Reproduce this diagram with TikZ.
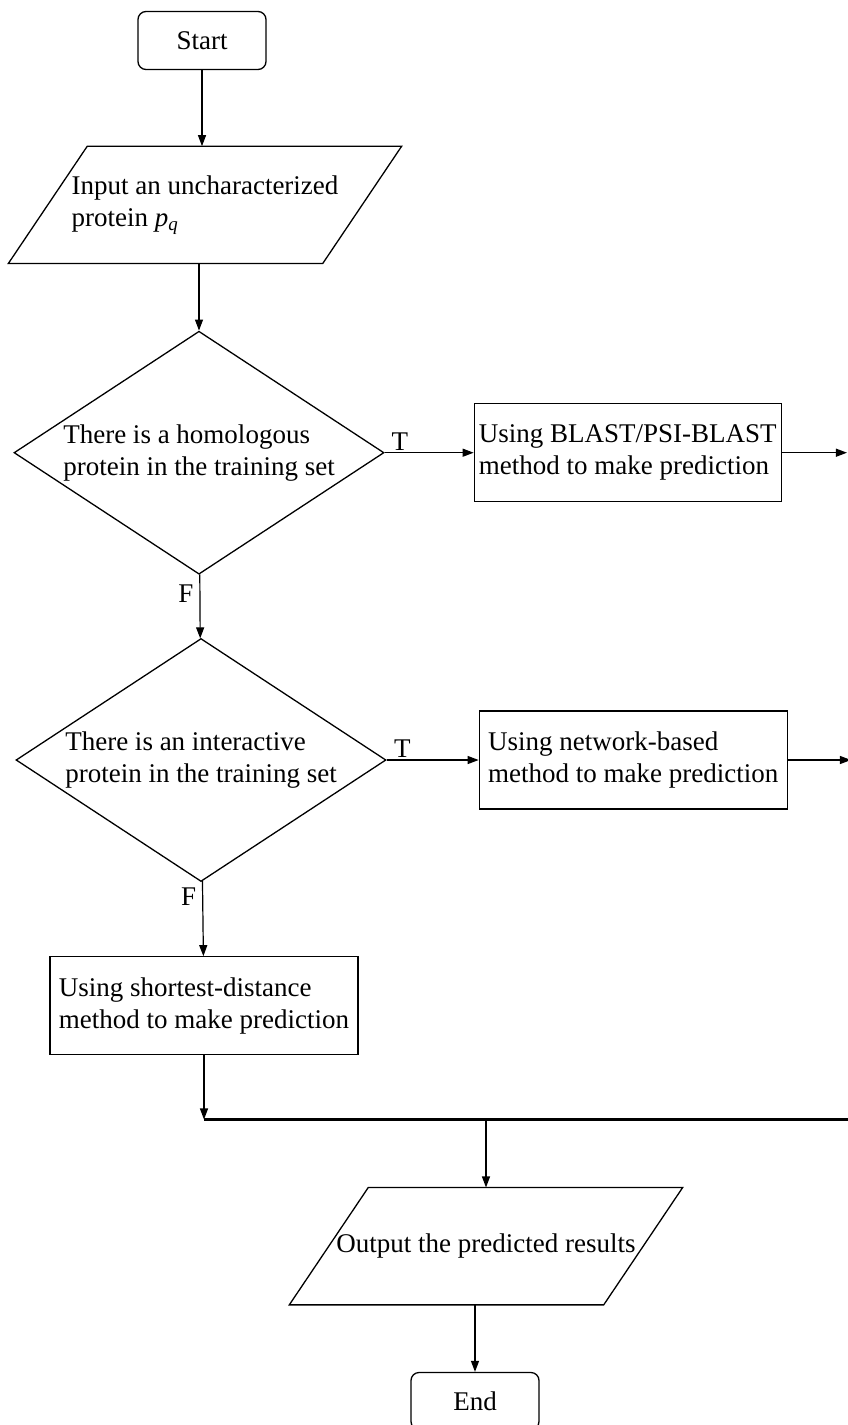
\documentclass[tikz,border=0pt]{standalone}
\usepackage{fontspec}
\setmainfont{Liberation Serif}
\usetikzlibrary{positioning, arrows.meta, shapes.geometric}

\tikzset{
  startstop/.style={draw, rounded corners=8pt, minimum width=128pt, minimum height=58pt, line width=1.3pt},
  io/.style={rectangle, minimum width=314pt, minimum height=117pt, align=left,
    append after command={\pgfextra{\draw[line width=1.3pt]
      ([xshift=-39.5pt]\tikzlastnode.south west) -- ([xshift=39.5pt]\tikzlastnode.north west) --
      ([xshift=39.5pt]\tikzlastnode.north east) -- ([xshift=-39.5pt]\tikzlastnode.south east) -- cycle;}}},
  decision/.style={draw, diamond, aspect=1.52, inner sep=0pt, minimum width=370pt, minimum height=243pt,
    align=left, line width=1.3pt},
  process/.style={draw, rectangle, minimum width=307pt, minimum height=98pt, align=left, inner sep=4pt, line width=1.3pt},
  flow/.style={-{Triangle[length=11pt,width=8pt]}, line width=1.2pt},
}

\begin{document}
\begin{tikzpicture}[x=1pt, y=1pt, font=\fontsize{27}{32}\selectfont]
	\useasboundingbox (0,0) rectangle (848,-1425);
	
	\node[startstop] (start) at (202,-40.5) {Start};
	\node[io, below=76pt of start, xshift=3pt] (input) {Input an uncharacterized\\protein \textit{p}\textsubscript{\textit{q}}};
	\node[decision, below=67pt of input, xshift=-6pt] (homol) {There is a homologous\\protein in the training set};
	\node[process, right=89pt of homol] (blast) {Using BLAST/PSI-BLAST\\method to make prediction};
	\node[decision, below=63pt of homol, xshift=2pt] (inter) {There is an interactive\\protein in the training set};
	\node[process, minimum width=308pt, right=92pt of inter] (net) {Using network-based\\method to make prediction};
	\node[process, minimum width=308pt, below=74pt of inter, xshift=3pt] (short) {Using shortest-distance\\method to make prediction};
	
	\coordinate[right=65pt of blast] (out1);
	\coordinate[right=63pt of net] (out2);
	\coordinate[below=64pt of short] (join);
	\coordinate[right=282pt of join] (joinmid);
	\coordinate[right=645pt of join] (joinend);
	
	\node[io, below=68pt of joinmid] (output) {Output the predicted results};
	\node[startstop, minimum height=57pt, below=67pt of output, xshift=-11pt] (end) {End};
	
	\draw[flow] (start) -- (start |- input.north);
	\draw[flow] (homol.north |- input.south) -- (homol);
	\draw[flow] (homol) -- node[above, pos=0.17, inner sep=2pt] {T} (blast);
	\draw[flow] (blast) -- (out1);
	\draw[flow] (homol) -- node[left, pos=0.3, inner sep=6pt] {F} (inter);
	\draw[flow] (inter) -- node[above, pos=0.17, inner sep=2pt] {T} (net);
	\draw[flow] (net) -- (out2);
	\draw[flow] (inter) -- node[left, pos=0.21, inner sep=6pt] {F} (short);
	\draw[flow] (short) -- (join);
	\draw[line width=2.2pt] (join) -- (joinend);
	\draw[flow] (joinmid) -- (output);
	\draw[flow] (end.north |- output.south) -- (end);
\end{tikzpicture}
\end{document}
